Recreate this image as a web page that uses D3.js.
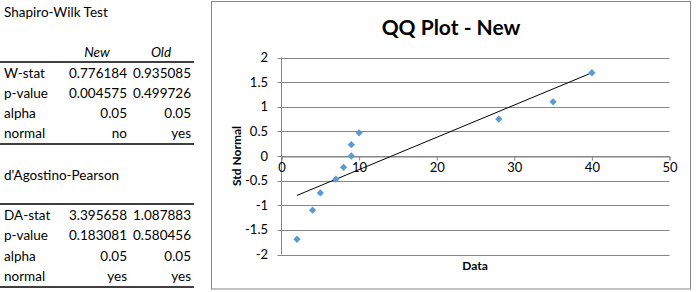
<!DOCTYPE html>
<html>
<head>
<meta charset="utf-8">
<script src="https://cdn.jsdelivr.net/npm/d3@7"></script>
<style>
  html, body { margin: 0; padding: 0; background: #fff; }
  svg { display: block; }
  text { font-family: Lato, "Liberation Sans", sans-serif; }
</style>
</head>
<body>
<svg id="c" width="696" height="292"></svg>
<script>
// ---------- data ----------
const swTitle = "Shapiro-Wilk Test";
const daTitle = "d'Agostino-Pearson";
const colHeaders = ["New", "Old"];
const swLabels = ["W-stat", "p-value", "alpha", "normal"];
const swNew = ["0.776184", "0.004575", "0.05", "no"];
const swOld = ["0.935085", "0.499726", "0.05", "yes"];
const daLabels = ["DA-stat", "p-value", "alpha", "normal"];
const daNew = ["3.395658", "0.183081", "0.05", "yes"];
const daOld = ["1.087883", "0.580456", "0.05", "yes"];

const chartTitle = "QQ Plot - New";
const xAxisTitle = "Data";
const yAxisTitle = "Std Normal";
const dataValues = [2, 4, 5, 7, 8, 9, 9, 10, 28, 35, 40];
const stdNormal = [-1.69, -1.10, -0.75, -0.47, -0.23, 0, 0.23, 0.47, 0.75, 1.10, 1.69];
const trendX = [2, 40];
const trendY = [-0.80, 1.69];
const xTicks = [0, 10, 20, 30, 40, 50];
const yTicks = [-2, -1.5, -1, -0.5, 0, 0.5, 1, 1.5, 2];

// ---------- drawing ----------
const svg = d3.select("#c");

function drawTable(g, title, titleY, headerY, lineTopY, rowY0, rowStep, labels, colA, colB, bottomY, showHeader) {
  g.append("text").attr("x", 4).attr("y", titleY).attr("font-size", 13.5).attr("fill", "#000").text(title);
  if (showHeader) {
    g.selectAll(null).data(colHeaders).enter().append("text")
      .attr("x", (d, i) => i === 0 ? 97 : 161).attr("y", headerY)
      .attr("text-anchor", "middle").attr("font-style", "italic").attr("font-size", 13.5).text(d => d);
  }
  g.append("line").attr("x1", 0).attr("x2", 194).attr("y1", lineTopY).attr("y2", lineTopY)
    .attr("stroke", "#000").attr("stroke-width", 1.3);
  g.append("line").attr("x1", 0).attr("x2", 194).attr("y1", bottomY).attr("y2", bottomY)
    .attr("stroke", "#000").attr("stroke-width", 1.3);
  labels.forEach((lab, i) => {
    const yy = rowY0 + i * rowStep;
    g.append("text").attr("x", 4).attr("y", yy).attr("font-size", 13.5).text(lab);
    g.append("text").attr("x", 127).attr("y", yy).attr("text-anchor", "end").attr("font-size", 13.5).text(colA[i]);
    g.append("text").attr("x", 191).attr("y", yy).attr("text-anchor", "end").attr("font-size", 13.5).text(colB[i]);
  });
}
const tg = svg.append("g");
drawTable(tg, swTitle, 17, 57, 62, 78, 20, swLabels, swNew, swOld, 144, true);
drawTable(tg, daTitle, 180, 0, 204, 220, 20.3, daLabels, daNew, daOld, 287, false);

// Chart border
svg.append("rect").attr("x", 211.5).attr("y", 1.5).attr("width", 479).attr("height", 287.5)
  .attr("fill", "none").attr("stroke", "#868686").attr("stroke-width", 1);

const pL = 281.5, pR = 669.5, pT = 57.5, pB = 254.5;
const x = d3.scaleLinear().domain([0, 50]).range([pL, pR]);
const y = d3.scaleLinear().domain([-2, 2]).range([pB, pT]);

// Gridlines
svg.append("g").selectAll("line").data(yTicks).enter().append("line")
  .attr("x1", pL - 4).attr("x2", pR)
  .attr("y1", d => Math.round(y(d)) + 0.5).attr("y2", d => Math.round(y(d)) + 0.5)
  .attr("stroke", "#868686").attr("stroke-width", 1);

// Y axis line
svg.append("line").attr("x1", pL).attr("x2", pL).attr("y1", pT).attr("y2", pB)
  .attr("stroke", "#868686").attr("stroke-width", 1);

// X axis at y=0
const zeroY = Math.round(y(0)) + 0.5;
const xAxis = d3.axisBottom(x).tickValues(xTicks).tickSize(4).tickFormat(d3.format("d"));
const xg = svg.append("g").attr("transform", `translate(0,${zeroY})`).call(xAxis);
xg.select(".domain").attr("stroke", "#868686");
xg.selectAll(".tick line").attr("stroke", "#868686");
xg.selectAll(".tick text").attr("font-family", "Lato, 'Liberation Sans', sans-serif")
  .attr("font-size", 13).attr("fill", "#000").attr("dy", "0.71em").attr("y", 6);

// Y tick labels
svg.append("g").selectAll("text").data(yTicks).enter().append("text")
  .attr("x", 268).attr("y", d => y(d)).attr("dy", "0.35em").attr("text-anchor", "end")
  .attr("font-size", 13).text(d => d);

// Trend line
svg.append("line")
  .attr("x1", x(trendX[0])).attr("y1", y(trendY[0]))
  .attr("x2", x(trendX[1])).attr("y2", y(trendY[1]))
  .attr("stroke", "#000").attr("stroke-width", 1);

// Points (diamonds)
const sym = d3.symbol().type(d3.symbolDiamond2).size(34);
svg.append("g").selectAll("path").data(dataValues).enter().append("path")
  .attr("d", sym)
  .attr("transform", (d, i) => `translate(${x(d)},${y(stdNormal[i])})`)
  .attr("fill", "#5B9BD5");

// Titles
svg.append("text").attr("x", 451).attr("y", 35).attr("text-anchor", "middle")
  .attr("font-size", 21).attr("font-weight", "bold").text(chartTitle);
svg.append("text").attr("x", 475).attr("y", 270).attr("text-anchor", "middle")
  .attr("font-size", 12).attr("font-weight", "bold").text(xAxisTitle);
svg.append("text").attr("transform", "translate(241,156) rotate(-90)").attr("text-anchor", "middle")
  .attr("font-size", 12).attr("font-weight", "bold").text(yAxisTitle);
</script>
</body>
</html>
